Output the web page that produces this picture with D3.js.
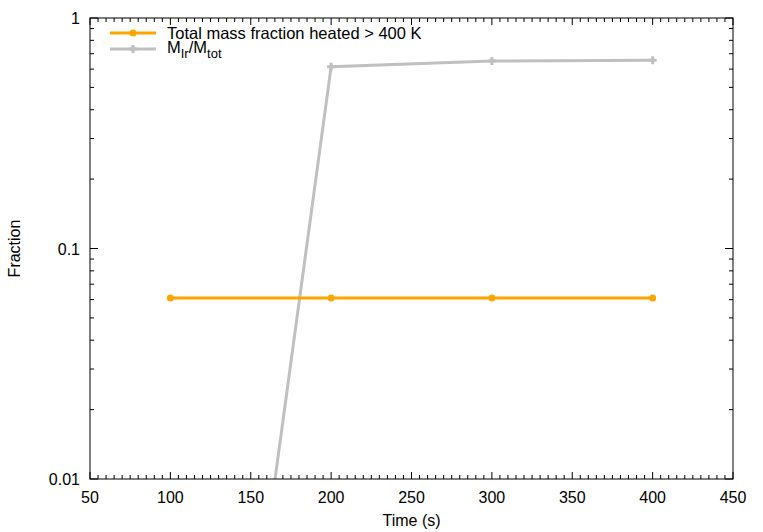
<!DOCTYPE html>
<html>
<head>
<meta charset="utf-8">
<script src="https://cdn.jsdelivr.net/npm/d3@7"></script>
<style>
  body { margin: 0; background: #fff; }
  text { font-family: "Liberation Sans", Arial, sans-serif; fill: #000; }
</style>
</head>
<body>
<script>
// data
var times = [100, 200, 300, 400];
var heatedFraction = [0.061, 0.061, 0.061, 0.061];
var irFraction = [4.6e-6, 0.615, 0.65, 0.655];
var xTicks = [50, 100, 150, 200, 250, 300, 350, 400, 450];
var yTicks = [0.01, 0.1, 1];
var yTickLabels = ["0.01", "0.1", "1"];

var svgWidth = 763;
var svgHeight = 532;

var margin = { top: 18, right: 30, bottom: 53, left: 90 };
var width = svgWidth - margin.left - margin.right;
var height = svgHeight - margin.top - margin.bottom;

var svg = d3.select("body")
  .append("svg")
  .attr("width", svgWidth)
  .attr("height", svgHeight);

var chart = svg.append("g")
  .attr("transform", `translate(${margin.left}, ${margin.top})`);

var x = d3.scaleLinear().domain([50, 450]).range([0, width]);
var y = d3.scaleLog().domain([0.01, 1]).range([height, 0]);

chart.append("clipPath").attr("id", "clip")
  .append("rect").attr("width", width).attr("height", height);

// minor ticks
var xMinor = d3.range(50, 451, 5).filter(v => v % 50 != 0);
var yMinor = [];
[0.01, 0.1].forEach(function(d) {
  for (var k = 2; k <= 9; k++) yMinor.push(d * k);
});

var ticks = chart.append("g").attr("stroke", "#000").attr("stroke-width", 1);

xTicks.forEach(function(v) {
  ticks.append("line").attr("x1", x(v)).attr("x2", x(v)).attr("y1", height).attr("y2", height - 7);
  ticks.append("line").attr("x1", x(v)).attr("x2", x(v)).attr("y1", 0).attr("y2", 7);
});
xMinor.forEach(function(v) {
  ticks.append("line").attr("x1", x(v)).attr("x2", x(v)).attr("y1", height).attr("y2", height - 4);
  ticks.append("line").attr("x1", x(v)).attr("x2", x(v)).attr("y1", 0).attr("y2", 4);
});
yTicks.forEach(function(v) {
  ticks.append("line").attr("x1", 0).attr("x2", 8).attr("y1", y(v)).attr("y2", y(v));
  ticks.append("line").attr("x1", width).attr("x2", width - 8).attr("y1", y(v)).attr("y2", y(v));
});
yMinor.forEach(function(v) {
  ticks.append("line").attr("x1", 0).attr("x2", 4).attr("y1", y(v)).attr("y2", y(v));
  ticks.append("line").attr("x1", width).attr("x2", width - 4).attr("y1", y(v)).attr("y2", y(v));
});

// tick labels
chart.selectAll(".xlab").data(xTicks).enter().append("text")
  .attr("x", d => x(d))
  .attr("y", height + 24)
  .attr("text-anchor", "middle")
  .style("font-size", "16px")
  .text(d => d);

chart.selectAll(".ylab").data(yTicks).enter().append("text")
  .attr("x", -10)
  .attr("y", d => y(d) + 6)
  .attr("text-anchor", "end")
  .style("font-size", "16px")
  .text((d, i) => yTickLabels[i]);

// lines
var line = d3.line().x(d => x(d[0])).y(d => y(d[1]));
var plot = chart.append("g").attr("clip-path", "url(#clip)");

var irData = times.map((t, i) => [t, irFraction[i]]);
var heatData = times.map((t, i) => [t, heatedFraction[i]]);

plot.append("path").datum(irData)
  .attr("d", line)
  .attr("fill", "none")
  .attr("stroke", "#c0c0c0")
  .attr("stroke-width", 3);

plot.selectAll(".plus").data(irData).enter().append("path")
  .attr("d", d => `M${x(d[0]) - 4},${y(d[1])}h8M${x(d[0])},${y(d[1]) - 4}v8`)
  .attr("stroke", "#c0c0c0")
  .attr("stroke-width", 3);

plot.append("path").datum(heatData)
  .attr("d", line)
  .attr("fill", "none")
  .attr("stroke", "#ffa500")
  .attr("stroke-width", 3);

plot.selectAll(".dot").data(heatData).enter().append("circle")
  .attr("cx", d => x(d[0]))
  .attr("cy", d => y(d[1]))
  .attr("r", 3.5)
  .attr("fill", "#ffa500");

// frame
chart.append("rect")
  .attr("width", width).attr("height", height)
  .attr("fill", "none").attr("stroke", "#000").attr("stroke-width", 1);

// legend
var legend = chart.append("g").attr("transform", "translate(20, 15)");
legend.append("line").attr("x1", 0).attr("x2", 46).attr("y1", 0).attr("y2", 0)
  .attr("stroke", "#ffa500").attr("stroke-width", 3);
legend.append("circle").attr("cx", 23).attr("cy", 0).attr("r", 3.5).attr("fill", "#ffa500");
legend.append("text").attr("x", 57).attr("y", 6).style("font-size", "16.5px")
  .text("Total mass fraction heated > 400 K");

legend.append("line").attr("x1", 0).attr("x2", 46).attr("y1", 16).attr("y2", 16)
  .attr("stroke", "#c0c0c0").attr("stroke-width", 3);
legend.append("path").attr("d", "M19,16h8M23,12v8")
  .attr("stroke", "#c0c0c0").attr("stroke-width", 3);
var lt = legend.append("text").attr("x", 57).attr("y", 20).style("font-size", "16.5px");
lt.append("tspan").text("M");
lt.append("tspan").attr("dy", 5).style("font-size", "13px").text("Ir");
lt.append("tspan").attr("dy", -5).text("/M");
lt.append("tspan").attr("dy", 5).style("font-size", "13px").text("tot");

// axis titles
svg.append("text")
  .attr("x", margin.left + width / 2)
  .attr("y", 526)
  .attr("text-anchor", "middle")
  .style("font-size", "16px")
  .text("Time (s)");

svg.append("text")
  .attr("transform", "rotate(-90)")
  .attr("x", -(margin.top + height / 2))
  .attr("y", 20)
  .attr("text-anchor", "middle")
  .style("font-size", "16px")
  .text("Fraction");
</script>
</body>
</html>
